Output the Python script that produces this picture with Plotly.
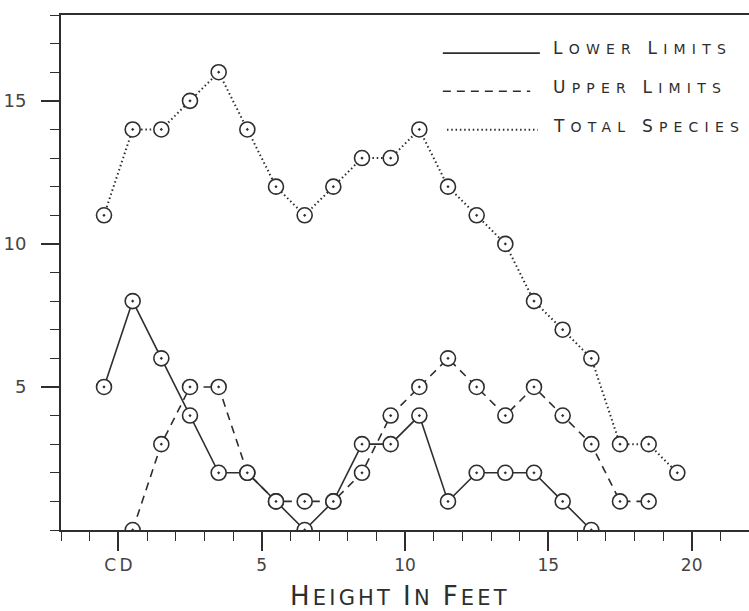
import plotly.graph_objects as go

# ---- data ----
heights_total = [-0.5, 0.5, 1.5, 2.5, 3.5, 4.5, 5.5, 6.5, 7.5, 8.5, 9.5,
                 10.5, 11.5, 12.5, 13.5, 14.5, 15.5, 16.5, 17.5, 18.5, 19.5]
total_species = [11, 14, 14, 15, 16, 14, 12, 11, 12, 13, 13,
                 14, 12, 11, 10, 8, 7, 6, 3, 3, 2]

heights_lower = [-0.5, 0.5, 1.5, 2.5, 3.5, 4.5, 5.5, 6.5, 7.5, 8.5, 9.5,
                 10.5, 11.5, 12.5, 13.5, 14.5, 15.5, 16.5]
lower_limits = [5, 8, 6, 4, 2, 2, 1, 0, 1, 3, 3, 4, 1, 2, 2, 2, 1, 0]

heights_upper = [0.5, 1.5, 2.5, 3.5, 4.5, 5.5, 6.5, 7.5, 8.5, 9.5,
                 10.5, 11.5, 12.5, 13.5, 14.5, 15.5, 16.5, 17.5, 18.5]
upper_limits = [0, 3, 5, 5, 2, 1, 1, 1, 2, 4, 5, 6, 5, 4, 5, 4, 3, 1, 1]

x_tickvals = [0, 5, 10, 15, 20]
x_ticktext = ["C\u2009D", "5", "10", "15", "20"]
y_tickvals = [5, 10, 15]
y_ticktext = ["5", "10", "15"]

INK = "#2e2e2e"
FONT = "DejaVu Sans"


def smallcaps(text, big, small, ls):
    parts = []
    for word in text.split(" "):
        parts.append(
            f"<span style='font-size:{big}px;letter-spacing:{ls}px'>{word[0]}</span>"
            f"<span style='font-size:{small}px;letter-spacing:{ls}px'>{word[1:]}</span>"
        )
    return f"<span style='letter-spacing:{ls}px'> </span>".join(parts)


marker = dict(symbol="circle-dot", size=15, color="white",
              line=dict(color=INK, width=1.6))

fig = go.Figure()
fig.add_trace(go.Scatter(x=heights_total, y=total_species, mode="lines+markers",
                         line=dict(color=INK, width=2, dash="1.5px,2.8px"),
                         marker=marker, showlegend=False))
fig.add_trace(go.Scatter(x=heights_upper, y=upper_limits, mode="lines+markers",
                         line=dict(color=INK, width=1.6, dash="8px,6px"),
                         marker=marker, showlegend=False))
fig.add_trace(go.Scatter(x=heights_lower, y=lower_limits, mode="lines+markers",
                         line=dict(color=INK, width=1.6),
                         marker=marker, showlegend=False))

# legend keys (paper coordinates)
legend_rows = [
    ("LOWER LIMITS", "solid", 0.926, 0.555, 0.696, 0.936),
    ("UPPER LIMITS", "8px,6px", 0.852, 0.555, 0.682, 0.860),
    ("TOTAL SPECIES", "1.5px,2.8px", 0.777, 0.561, 0.693, 0.784),
]
for label, dash, ly, x0, x1, ty in legend_rows:
    fig.add_shape(type="line", xref="paper", yref="paper", x0=x0, x1=x1, y0=ly, y1=ly,
                  line=dict(color=INK, width=2 if dash.startswith("1.5") else 1.6, dash=dash))
    fig.add_annotation(xref="paper", yref="paper", x=0.712, y=ty, xanchor="left",
                       yanchor="middle", showarrow=False,
                       text=smallcaps(label, 17, 14, 6.2),
                       font=dict(family=FONT, size=14, color=INK))

# x axis title
fig.add_annotation(xref="paper", yref="paper", x=0.493, y=-0.129, xanchor="center",
                   yanchor="middle", showarrow=False,
                   text=smallcaps("HEIGHT IN FEET", 26, 21, 3.2),
                   font=dict(family=FONT, size=21, color=INK))

fig.update_layout(
    width=749, height=611,
    margin=dict(l=61, r=0, t=15, b=81),
    paper_bgcolor="white", plot_bgcolor="white",
    showlegend=False,
    font=dict(family=FONT, color="#444"),
)
fig.update_xaxes(
    range=[-2, 22], showgrid=False, zeroline=False,
    showline=True, mirror=True, linecolor=INK, linewidth=1.8,
    tickmode="array", tickvals=x_tickvals, ticktext=x_ticktext,
    ticks="outside", ticklen=19, tickwidth=1.6, tickcolor=INK,
    tickfont=dict(family=FONT, size=17, color="#444"),
    minor=dict(ticks="outside", ticklen=9, tickwidth=1.4, tickcolor=INK,
               dtick=1, tick0=0, showgrid=False),
)
fig.update_yaxes(
    range=[0, 18], showgrid=False, zeroline=False,
    showline=True, mirror=False, linecolor=INK, linewidth=1.8,
    tickmode="array", tickvals=y_tickvals, ticktext=y_ticktext,
    ticks="outside", ticklen=18, tickwidth=1.6, tickcolor=INK,
    tickfont=dict(family=FONT, size=18, color="#444"),
    ticklabelstandoff=11,
    minor=dict(ticks="outside", ticklen=9, tickwidth=1.4, tickcolor=INK,
               dtick=1, tick0=0, showgrid=False),
)

fig.write_html("out.html", config={"displayModeBar": False},
               post_script="document.body.style.margin='0';document.body.style.padding='0';")
